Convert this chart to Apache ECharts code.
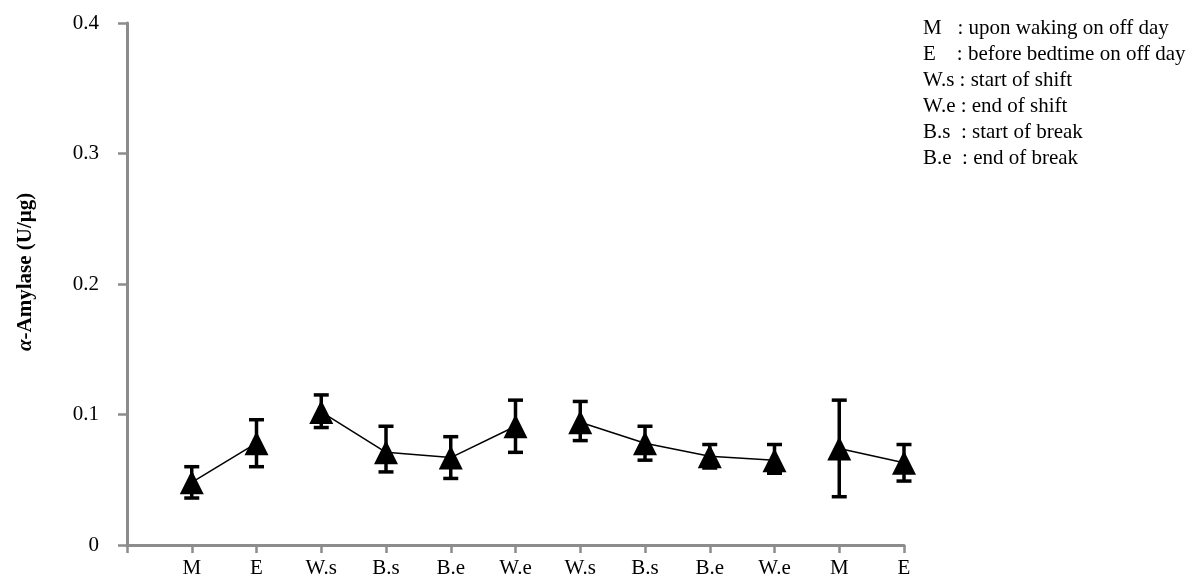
<!DOCTYPE html>
<html>
<head>
<meta charset="utf-8">
<title>alpha-Amylase</title>
<script src="https://cdn.jsdelivr.net/npm/echarts@6/dist/echarts.min.js"></script>
<style>
  html, body { margin: 0; padding: 0; background: #fff; }
  #chart { width: 1204px; height: 583px; }
</style>
</head>
<body>
<div id="chart"></div>
<script>
const categories = ['M', 'E', 'W.s', 'B.s', 'B.e', 'W.e', 'W.s', 'B.s', 'B.e', 'W.e', 'M', 'E']
const means = [0.048, 0.078, 0.102, 0.071, 0.067, 0.091, 0.094, 0.078, 0.068, 0.065, 0.074, 0.063]
const upper = [0.060, 0.096, 0.115, 0.091, 0.083, 0.111, 0.110, 0.091, 0.077, 0.077, 0.111, 0.077]
const lower = [0.036, 0.060, 0.090, 0.056, 0.051, 0.071, 0.080, 0.065, 0.059, 0.055, 0.037, 0.049]
// which points are joined by a line
const segments = [[0, 1], [2, 3, 4, 5], [6, 7, 8, 9], [10, 11]]
const yTicks = [0, 0.1, 0.2, 0.3, 0.4]
const notes = [
  'M   : upon waking on off day',
  'E    : before bedtime on off day',
  'W.s : start of shift',
  'W.e : end of shift',
  'B.s  : start of break',
  'B.e  : end of break'
]

const font = '"Liberation Serif", "Times New Roman", serif'
const axisGray = '#8c8c8c'

const chart = echarts.init(document.getElementById('chart'))

const lineSeries = segments.map(idx => ({
  type: 'line',
  data: idx.map(i => [i + 1, means[i]]),
  symbol: 'triangle',
  symbolSize: [24, 24],
  itemStyle: { color: '#000' },
  lineStyle: { color: '#000', width: 1.5 },
  z: 3,
  silent: true
}))

const errSeries = {
  type: 'custom',
  data: means.map((m, i) => [i + 1, lower[i], upper[i]]),
  z: 2,
  silent: true,
  renderItem(params, api) {
    const lo = api.coord([api.value(0), api.value(1)])
    const hi = api.coord([api.value(0), api.value(2)])
    const w = 7.5
    const st = { stroke: '#000', lineWidth: 3.5 }
    return {
      type: 'group',
      children: [
        { type: 'line', shape: { x1: lo[0], y1: lo[1], x2: hi[0], y2: hi[1] }, style: st },
        { type: 'line', shape: { x1: lo[0] - w, y1: lo[1], x2: lo[0] + w, y2: lo[1] }, style: st },
        { type: 'line', shape: { x1: hi[0] - w, y1: hi[1], x2: hi[0] + w, y2: hi[1] }, style: st }
      ]
    }
  }
}

chart.setOption({
  animation: false,
  grid: { left: 127, right: 300, top: 23, bottom: 38 },
  xAxis: {
    type: 'value',
    min: 0,
    max: categories.length,
    interval: 1,
    axisLine: { lineStyle: { color: axisGray, width: 3 } },
    axisTick: { show: true, length: 8, lineStyle: { color: axisGray, width: 2.5 } },
    splitLine: { show: false },
    axisLabel: {
      color: '#000',
      fontFamily: font,
      fontSize: 21,
      margin: 13,
      formatter: v => categories[v - 1] || ''
    }
  },
  yAxis: {
    type: 'value',
    min: yTicks[0],
    max: yTicks[yTicks.length - 1],
    interval: 0.1,
    axisLine: { show: true, lineStyle: { color: axisGray, width: 3 } },
    axisTick: { show: true, length: 9, lineStyle: { color: axisGray, width: 2.5 } },
    splitLine: { show: false },
    axisLabel: {
      color: '#000',
      fontFamily: font,
      fontSize: 21,
      margin: 28,
      formatter: v => (v === 0 ? '0' : v.toFixed(1))
    }
  },
  graphic: [
    {
      type: 'text',
      x: 26,
      y: 272,
      rotation: Math.PI / 2,
      style: {
        text: '{a|α}-Amylase (U/μg)',
        align: 'center',
        verticalAlign: 'middle',
        fill: '#000',
        font: 'bold 21px ' + font,
        rich: { a: { font: 'italic bold 21px ' + font, fill: '#000' } }
      }
    },
    {
      type: 'text',
      left: 923,
      top: 15,
      style: {
        text: notes.join('\n'),
        fill: '#000',
        font: '21px ' + font,
        lineHeight: 26
      }
    }
  ],
  series: [errSeries, ...lineSeries]
})
</script>
</body>
</html>
